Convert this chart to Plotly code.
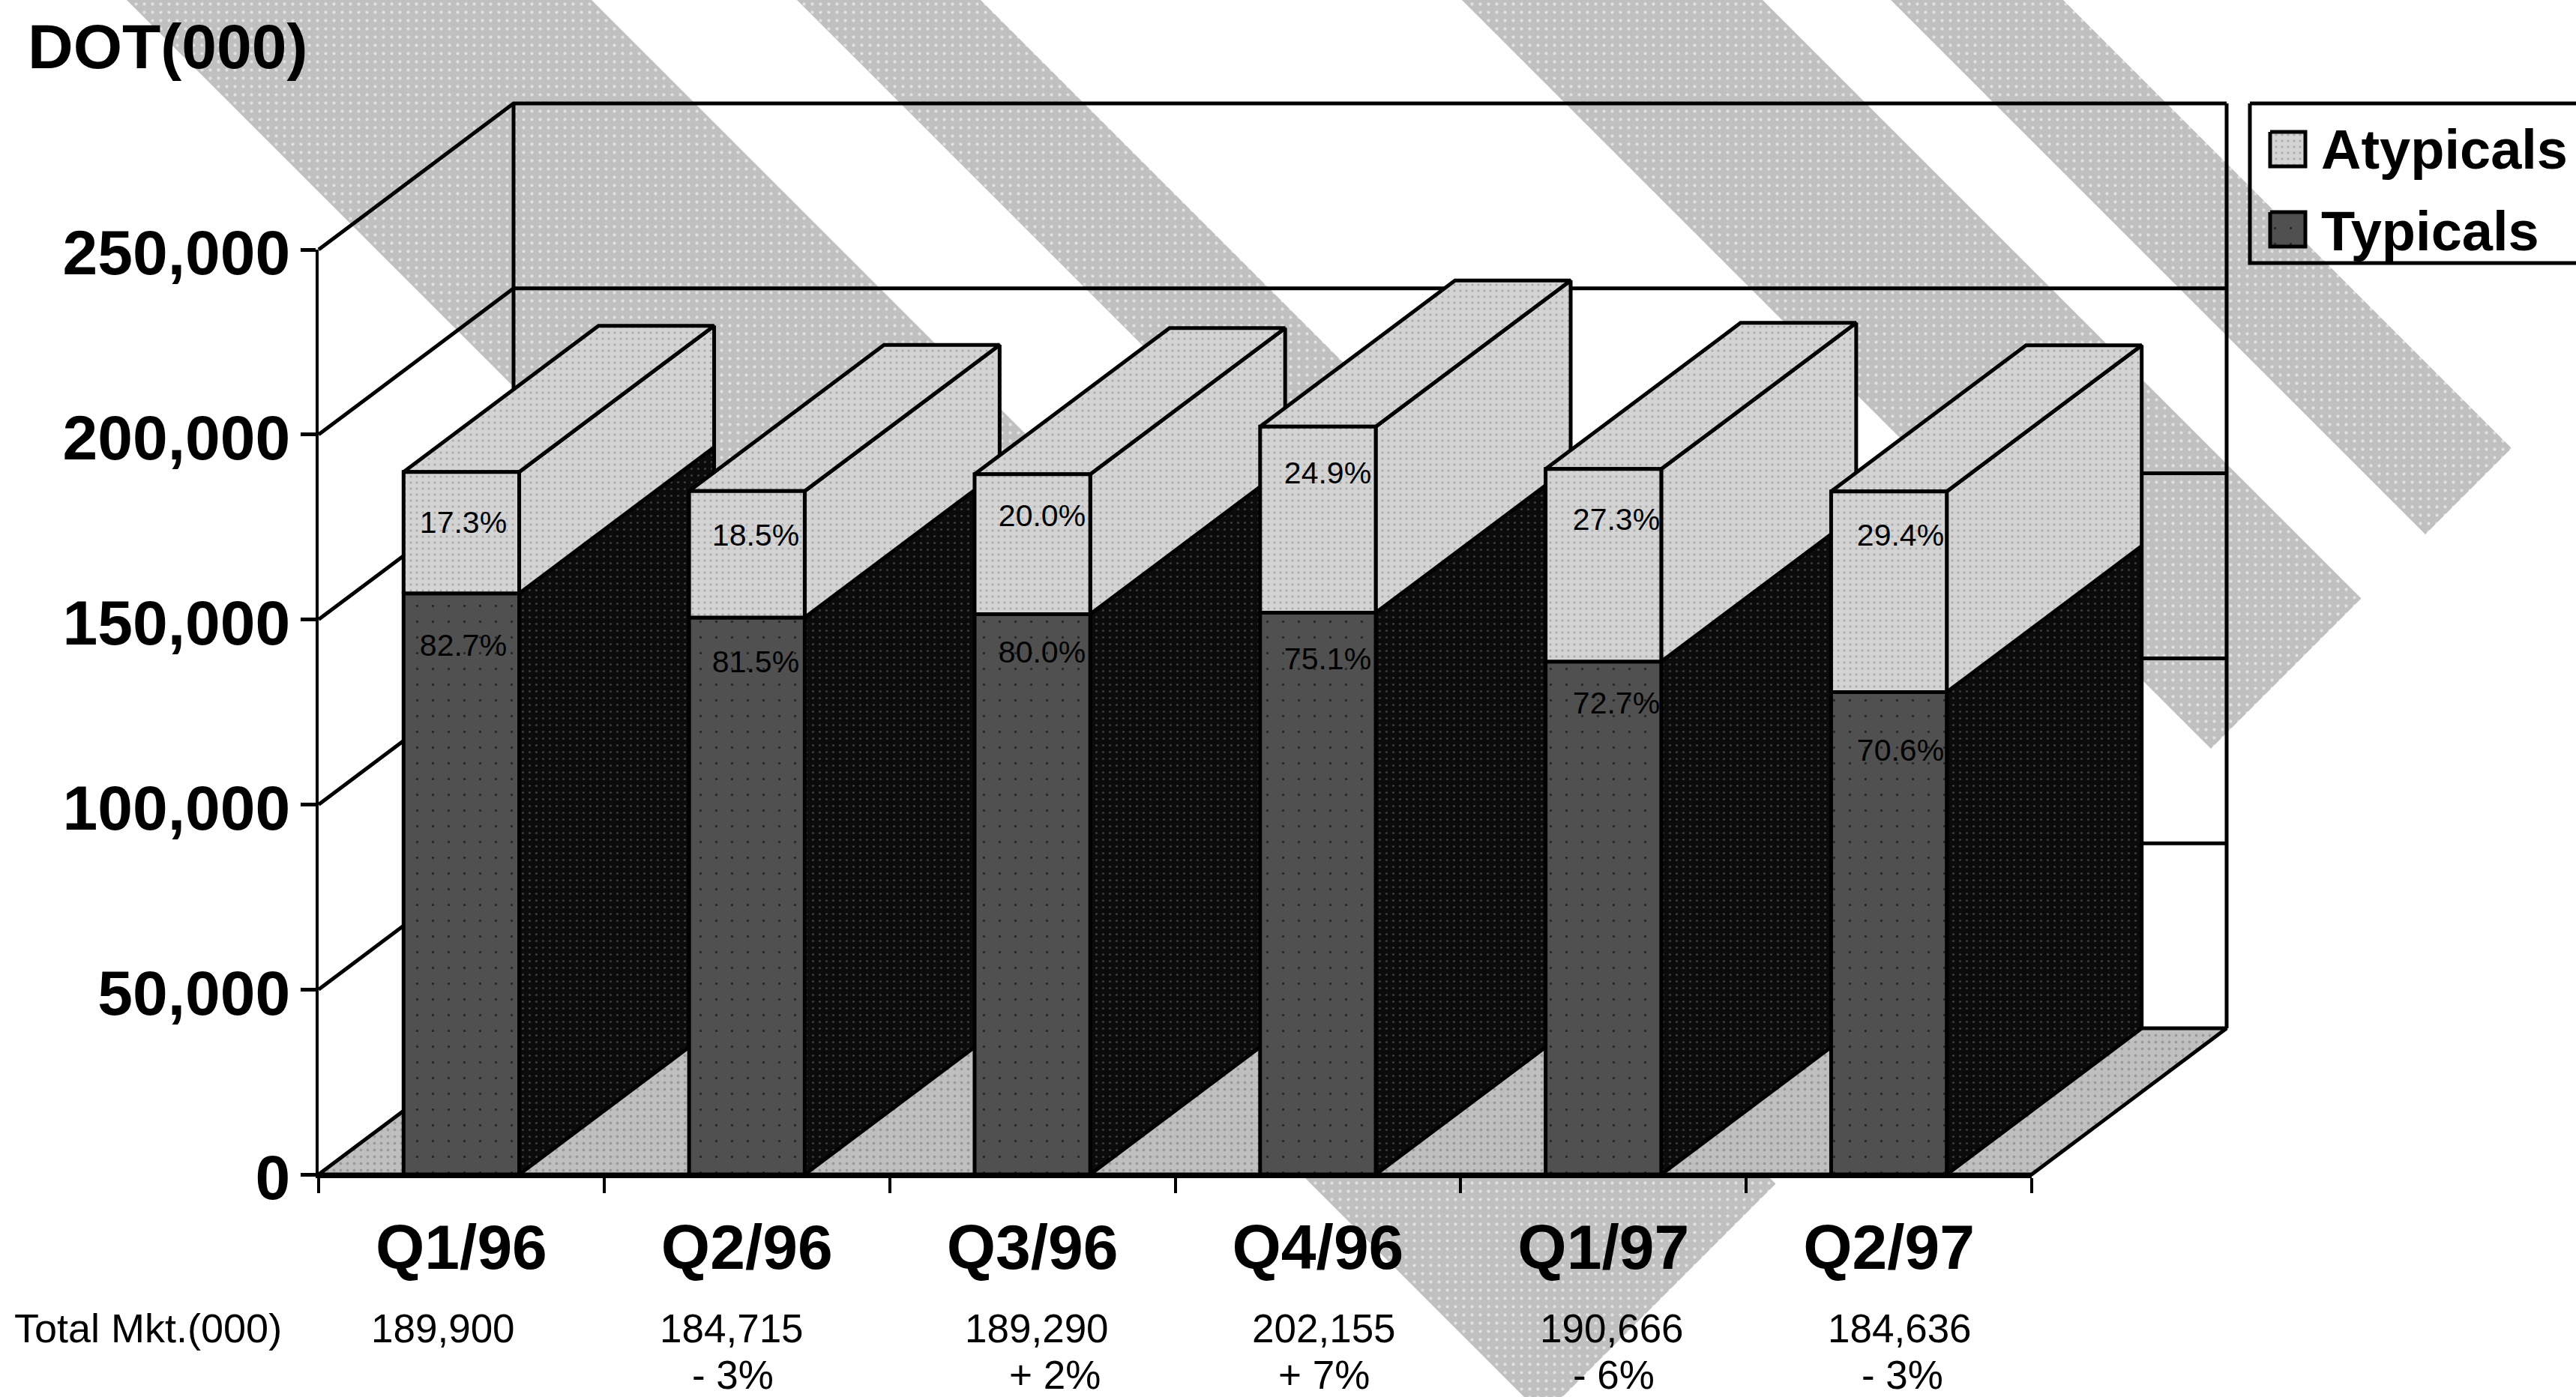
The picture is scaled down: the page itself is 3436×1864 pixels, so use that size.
import plotly.graph_objects as go

# Quarterly market data
quarters = ["Q1/96", "Q2/96", "Q3/96", "Q4/96", "Q1/97", "Q2/97"]
totals = [189900, 184715, 189290, 202155, 190666, 184636]
typical_pct = [82.7, 81.5, 80.0, 75.1, 72.7, 70.6]
atypical_pct = [17.3, 18.5, 20.0, 24.9, 27.3, 29.4]
changes = ["", "- 3%", "+ 2%", "+ 7%", "- 6%", "- 3%"]
y_ticks = [0, 50000, 100000, 150000, 200000, 250000]

# Page and plot geometry, in pixels
W, H = 3436, 1864
LEFT, RIGHT, TOP, BOTTOM = 425, 2710, 333, 1567
Y_MAX, N = 250000, len(quarters)

def to_x(px):
    return (px - LEFT) / (RIGHT - LEFT) * N

def to_y(px):
    return (BOTTOM - px) / (BOTTOM - TOP) * Y_MAX

# Oblique projection of the depth axis and bar width, in axis units
DX = to_x(LEFT + 260)
DY = to_y(BOTTOM - 195)
BAR = 0.405

# Pixel placement of the free-standing text
atyp_label_px = [701, 718, 692, 635, 697, 718]
typ_label_px = [865, 887, 874, 883, 942, 1005]
pct_label_x_px = [618, 1008, 1390, 1771, 2156, 2535]
total_x_px = [591, 976, 1383, 1766, 2150, 2534]
change_x_px = [0, 977, 1407, 1766, 2152, 2537]

# Diagonal backdrop bands: offsets of their edges along (x - y), in pixels
band_edges = [(169, 789), (1063, 1308), (1950, 2351), (2522, 2752)]
BAND_END = 3948  # x + y of the cut that ends every band

BLACK = "#000000"
LW = 5
pat_band = dict(shape=".", bgcolor="#c0c0c0", fgcolor="#ffffff", size=11, solidity=0.12)
pat_floor = dict(shape=".", bgcolor="#bfbfbf", fgcolor="#777777", size=9, solidity=0.14)
pat_atyp = dict(shape=".", bgcolor="#d4d4d4", fgcolor="#8a8a8a", size=8, solidity=0.14)
pat_typ = dict(shape=".", bgcolor="#505050", fgcolor="#000000", size=21, solidity=0.02)
pat_side = dict(shape=".", bgcolor="#0b0b0b", fgcolor="#6a6a6a", size=9, solidity=0.1)

fig = go.Figure()

def poly(xs, ys, pattern=None, line=True, name=""):
    fig.add_trace(go.Scatter(
        x=xs, y=ys, mode="lines", name=name, showlegend=False, hoverinfo="skip",
        fill="toself" if pattern else None,
        fillpattern=pattern,
        line=dict(color=BLACK if line else "rgba(0,0,0,0)", width=LW if line else 0),
    ))

# Backdrop bands
for lo, hi in band_edges:
    top = -40
    corners = [
        (lo + top, top), (hi + top, top),
        ((BAND_END + hi) / 2, (BAND_END - hi) / 2),
        ((BAND_END + lo) / 2, (BAND_END - lo) / 2),
    ]
    poly([to_x(c[0]) for c in corners] + [to_x(corners[0][0])],
         [to_y(c[1]) for c in corners] + [to_y(corners[0][1])],
         pattern=pat_band, line=False, name="band")

# Walls: gridlines run along the side wall and then across the back wall
for v in y_ticks[1:]:
    poly([0, DX, N + DX], [v, v + DY, v + DY], name="grid")
poly([DX, DX], [DY, Y_MAX + DY], name="wall edge")
poly([N + DX, N + DX], [DY, Y_MAX + DY], name="wall edge")

# Floor
poly([0, N, N + DX, DX, 0], [0, 0, DY, DY, 0], pattern=pat_floor, name="floor")

# Stacked 3-D columns, painted left to right so later ones cover earlier sides
for i, total in enumerate(totals):
    x0 = i + (1 - BAR) / 2
    x1 = x0 + BAR
    typ = total * typical_pct[i] / 100
    top = typ + total * atypical_pct[i] / 100
    poly([x1, x1 + DX, x1 + DX, x1, x1], [0, DY, typ + DY, typ, 0], pat_side, name="Typicals")
    poly([x0, x1, x1, x0, x0], [0, 0, typ, typ, 0], pat_typ, name="Typicals")
    poly([x1, x1 + DX, x1 + DX, x1, x1], [typ, typ + DY, top + DY, top, typ], pat_atyp, name="Atypicals")
    poly([x0, x1, x1 + DX, x0 + DX, x0], [top, top, top + DY, top + DY, top], pat_atyp, name="Atypicals")
    poly([x0, x1, x1, x0, x0], [typ, typ, top, top, typ], pat_atyp, name="Atypicals")

# Share labels on the column faces
fig.add_trace(go.Scatter(
    x=[to_x(p) for p in pct_label_x_px] * 2,
    y=[to_y(p) for p in atyp_label_px] + [to_y(p) for p in typ_label_px],
    mode="text", showlegend=False, hoverinfo="skip",
    text=[f"{p:.1f}%" for p in atypical_pct] + [f"{p:.1f}%" for p in typical_pct],
    textposition="middle center",
    textfont=dict(family="Liberation Sans", size=41, color=BLACK),
))

# Legend box and swatches
lx0, lx1, ly0, ly1 = 3001, 3460, 138, 351
poly([to_x(p) for p in (lx0, lx1, lx1, lx0, lx0)],
     [to_y(p) for p in (ly0, ly0, ly1, ly1, ly0)], name="legend box")
for (sy0, sy1), pattern, name in (((176, 222), pat_atyp, "Atypicals"), ((283, 329), pat_typ, "Typicals")):
    poly([to_x(p) for p in (3028, 3075, 3075, 3028, 3028)],
         [to_y(p) for p in (sy0, sy0, sy1, sy1, sy0)], pattern, name=name)

# The visible axes live on their own subplot, drawn over the full-page one
fig.add_trace(go.Scatter(
    x=[i + 0.5 for i in range(N)], y=totals, xaxis="x2", yaxis="y2",
    mode="markers", marker=dict(opacity=0), showlegend=False, hoverinfo="skip",
    name="Total",
))

annotations = []

def note(text, x_px, y_px, size, weight=400, anchor="center"):
    annotations.append(dict(
        text=text, x=x_px / W, y=1 - y_px / H, xref="paper", yref="paper",
        xanchor=anchor, yanchor="middle", showarrow=False, borderpad=0,
        font=dict(family="Liberation Sans", size=size, color=BLACK, weight=weight),
    ))

note("DOT(000)", 36, 62, 84, 700, "left")
note("Atypicals", 3095, 199, 74, 700, "left")
note("Typicals", 3095, 308, 74, 700, "left")
note("Total Mkt.(000)", 18, 1772, 54, 400, "left")
for i, total in enumerate(totals):
    note(f"{total:,}", total_x_px[i], 1772, 53)
    if changes[i]:
        note(changes[i], change_x_px[i], 1834, 53)

AXIS_FONT = dict(family="Liberation Sans", size=84, color=BLACK, weight=700)

fig.update_layout(
    width=W, height=H, autosize=False,
    margin=dict(l=0, r=0, t=0, b=0, pad=0, autoexpand=False),
    paper_bgcolor="#ffffff", plot_bgcolor="rgba(0,0,0,0)",
    showlegend=False, annotations=annotations,
    # Full-page drawing axes share the scale of the visible ones
    xaxis=dict(domain=[0, 1], range=[to_x(0), to_x(W)], visible=False, fixedrange=True, automargin=False),
    yaxis=dict(domain=[0, 1], range=[to_y(H), to_y(0)], visible=False, fixedrange=True, automargin=False),
    xaxis2=dict(
        domain=[LEFT / W, RIGHT / W], anchor="y2", automargin=False,
        range=[0, N], showgrid=False, zeroline=False, showline=True,
        linecolor=BLACK, linewidth=5, fixedrange=True,
        tickmode="array", tickvals=[i + 0.5 for i in range(N)], ticktext=quarters,
        ticks="", tickfont=AXIS_FONT, ticklabelstandoff=20,
        minor=dict(tickmode="array", tickvals=list(range(N + 1)), ticks="outside",
                   ticklen=20, tickwidth=4, tickcolor=BLACK, showgrid=False),
    ),
    yaxis2=dict(
        domain=[1 - BOTTOM / H, 1 - TOP / H], anchor="x2", automargin=False,
        range=[0, Y_MAX], showgrid=False, zeroline=False, showline=True,
        linecolor=BLACK, linewidth=4, fixedrange=True,
        tickmode="array", tickvals=y_ticks, tickformat=",",
        ticks="outside", ticklen=20, tickwidth=5, tickcolor=BLACK,
        tickfont=AXIS_FONT, ticklabelstandoff=-3, ticklabelshift=4,
    ),
)

fig.write_html("out.html", config=dict(displayModeBar=False))
